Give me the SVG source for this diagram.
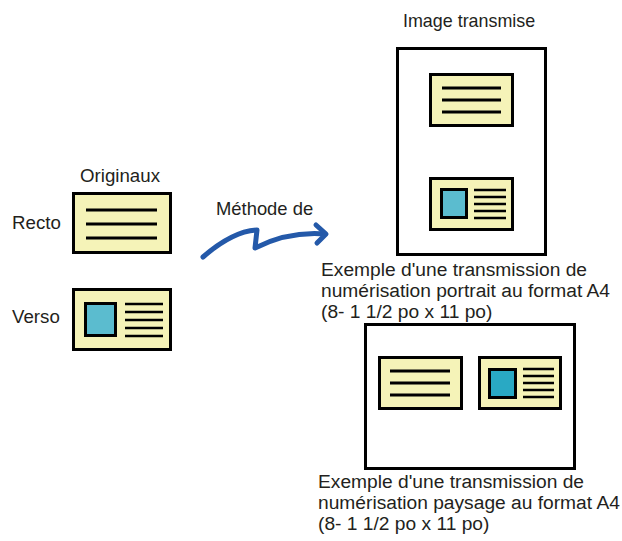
<svg xmlns="http://www.w3.org/2000/svg" width="622" height="541" viewBox="0 0 622 541">
<style>
text{font-family:"Liberation Sans",Arial,sans-serif;font-size:18.7px;fill:#231f20}
.cap{font-size:19.2px}
.card{fill:#f5f3b8;stroke:#000;stroke-width:3}
.frame{fill:#fff;stroke:#000;stroke-width:3}
.ln{stroke:#000;stroke-width:3;fill:none}
.sl{stroke:#000;stroke-width:2.5;fill:none}
.photo{fill:#5bbccf;stroke:#000;stroke-width:3}
.photo2{fill:#29a9c4;stroke:#000;stroke-width:3}
.arrow{fill:none;stroke:#2459a9;stroke-width:5;stroke-linecap:round;stroke-linejoin:round}
</style>
<rect width="622" height="541" fill="#fff"/>
<g id="labels">
<text x="403" y="27" style="font-size:17.9px">Image transmise</text>
<text x="80" y="182">Originaux</text>
<text x="12" y="229">Recto</text>
<text x="12" y="323">Verso</text>
<text x="216" y="215" style="font-size:18.4px">Méthode de</text>
</g>
<g id="recto">
<rect class="card" x="73.5" y="193.5" width="97" height="59"/>
<path class="ln" d="M86 210H157M86 224H157M86 238H157"/>
</g>
<g id="verso">
<rect class="card" x="73.5" y="289.5" width="97" height="60"/>
<rect class="photo" x="85.5" y="303.5" width="30" height="32"/>
<path class="sl" d="M125 304H163M125 312H163M125 320H163M125 328H163M125 336H163"/>
</g>
<g id="portrait">
<rect class="frame" x="397.5" y="48.5" width="148" height="206"/>
<rect class="card" x="430.5" y="74.5" width="82" height="51"/>
<path class="ln" d="M442 88H501M442 100H501M442 112H501"/>
<rect class="card" x="430.5" y="178.5" width="82" height="51"/>
<rect class="photo" x="441.5" y="189.5" width="25" height="28"/>
<path class="sl" d="M474 190H506M474 197H506M474 204H506M474 211H506M474 218H506"/>
<text class="cap" x="321" y="276">Exemple d'une transmission de</text>
<text class="cap" x="321" y="297">numérisation portrait au format A4</text>
<text class="cap" x="321" y="318">(8- 1 1/2 po x 11 po)</text>
</g>
<g id="landscape">
<rect class="frame" x="365.5" y="324.5" width="209" height="144"/>
<rect class="card" x="379.5" y="357.5" width="82" height="51"/>
<path class="ln" d="M390 371H450M390 383H450M390 395H450"/>
<rect class="card" x="479.5" y="357.5" width="81" height="51"/>
<rect class="photo2" x="489.5" y="369.5" width="26" height="28"/>
<path class="sl" d="M523 369H554M523 376H554M523 383H554M523 390H554M523 397H554"/>
<text class="cap" x="318" y="488">Exemple d'une transmission de</text>
<text class="cap" x="318" y="509">numérisation paysage au format A4</text>
<text class="cap" x="318" y="530">(8- 1 1/2 po x 11 po)</text>
</g>
<g id="connectors">
<path class="arrow" d="M203 257C218 244 238 231 257 230L255 248C275 238 300 232 325 234"/>
<path class="arrow" d="M316 225L326 234L317 243"/>
</g>
</svg>
